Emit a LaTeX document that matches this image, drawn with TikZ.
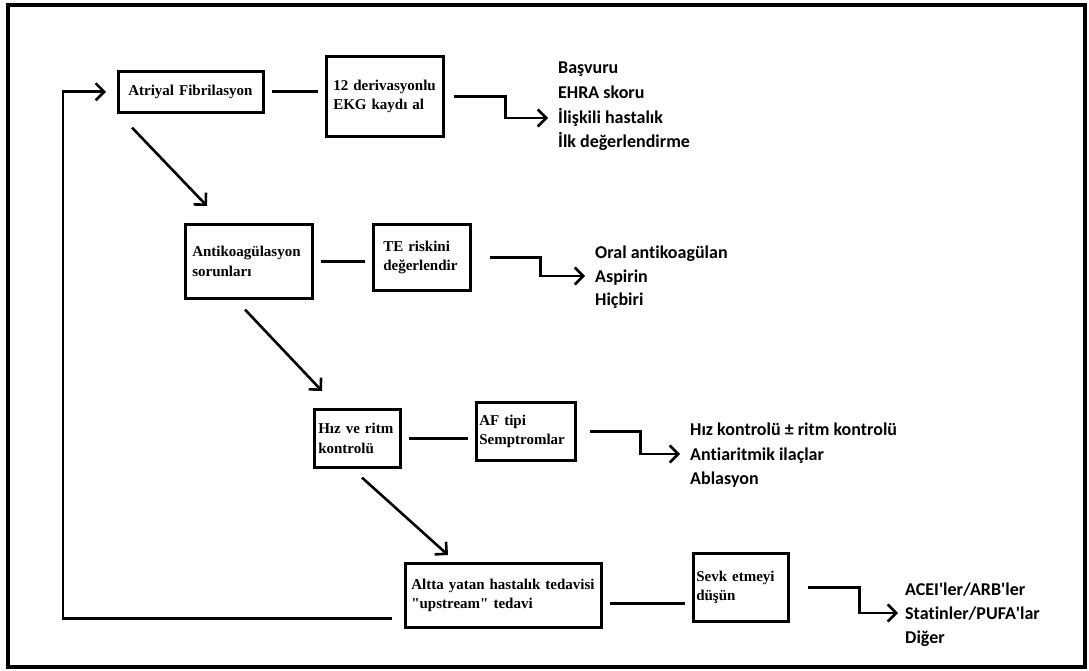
\documentclass[tikz,border=0pt]{standalone}
\usepackage{fontspec}
\setmainfont{Liberation Serif}
\newfontfamily\listfont{Carlito}[Ligatures={NoCommon}]
\usetikzlibrary{arrows.meta}

\begin{document}
\begin{tikzpicture}[
  x=1pt,
  y=-1pt,
  stepbox/.style={
    draw,
    line width=2.6pt,
    anchor=north west,
    align=left,
    font=\bfseries\fontsize{15}{19.5}\selectfont
  },
  link/.style={line width=2.6pt,shorten <=7pt,shorten >=7pt},
  flow/.style={line width=2.6pt,-{Straight Barb[length=8.5pt,width=17pt]}},
  item/.style={
    anchor=base west,
    inner sep=0pt,
    text height=12pt,
    text depth=0pt,
    font=\listfont\bfseries\fontsize{18}{22}\selectfont
  }
]

\useasboundingbox (0,0) rectangle (1089,671);

% Outer frame
\draw[line width=4pt] (8,5) rectangle (1085,667);

% Main steps
\node[stepbox,text width=125pt,inner xsep=10pt,minimum height=41pt]
  (atriyal) at (117,70) {Atriyal Fibrilasyon};
\node[stepbox,text width=103pt,inner xsep=7pt,minimum height=80pt]
  (ekg) at (325,55) {12 derivasyonlu\\EKG kaydı al};

\node[stepbox,text width=113pt,inner xsep=7pt,minimum height=74pt]
  (antikoag) at (184,223) {Antikoagülasyon\\sorunları};
\node[stepbox,text width=77pt,inner xsep=10pt,minimum height=66pt]
  (te) at (372,223) {TE riskini\\değerlendir};

\node[stepbox,text width=78pt,inner xsep=4pt,minimum height=58pt]
  (hiz) at (313,408) {Hız ve ritm\\kontrolü};
\node[stepbox,text width=93pt,inner xsep=3pt,minimum height=58pt]
  (aftipi) at (475,401) {AF tipi\\Semptromlar};

\node[stepbox,text width=184pt,inner xsep=6pt,minimum height=64pt]
  (altta) at (404,562) {Altta yatan hastalık tedavisi\\\textquotedbl upstream\textquotedbl\ tedavi};
\node[stepbox,text width=89pt,inner xsep=3pt,minimum height=68pt]
  (sevk) at (692,552) {Sevk etmeyi\\düşün};

% Outcome lists
\node[item] (basvuru) at (558,74) {Başvuru};
\node[item] (ehra) at (558,99) {EHRA skoru};
\node[item] (iliskili) at (558,124) {İlişkili hastalık};
\node[item] (ilk) at (558,148) {İlk değerlendirme};

\node[item] (oral) at (595,258) {Oral antikoagülan};
\node[item] (aspirin) at (595,282) {Aspirin};
\node[item] (hicbiri) at (595,305) {Hiçbiri};

\node[item] (hizk) at (690,435) {Hız kontrolü ± ritm kontrolü};
\node[item] (antiar) at (690,460) {Antiaritmik ilaçlar};
\node[item] (ablasyon) at (690,484) {Ablasyon};

\node[item] (acei) at (905,595) {ACEI\textquotesingle ler/ARB\textquotesingle ler};
\node[item] (statin) at (905,619) {Statinler/PUFA\textquotesingle lar};
\node[item] (diger) at (905,643) {Diğer};

% Links between step boxes
\draw[link] (atriyal.east) -- (atriyal.east -| ekg.west);
\draw[link] (antikoag.east) -- (antikoag.east -| te.west);
\draw[link] (hiz.east) -- (hiz.east -| aftipi.west);
\draw[link] ([yshift=-8pt]altta.east) -- ([yshift=-8pt]altta.east -| sevk.west);

% Elbow arrows to the lists
\draw[flow,shorten <=9pt,shorten >=10pt] (ekg.east) -- ++(61,0) |- (iliskili.west);
\draw[flow,shorten <=18pt,shorten >=10pt] (te.east) -- ++(69,0) |- (aspirin.west);
\draw[flow,shorten <=13pt,shorten >=10pt] (aftipi.east) -- ++(64,0) |- (antiar.west);
\draw[flow,shorten <=18pt,shorten >=7pt] (sevk.east) -- ++(70,0) |- (statin.west);

% Diagonal arrows down the chain
\draw[flow] ([xshift=15pt,yshift=-14pt]atriyal.south west)
  -- ([xshift=23pt,yshift=17pt]antikoag.north west);
\draw[flow] ([xshift=61pt,yshift=-10pt]antikoag.south west)
  -- ([xshift=9pt,yshift=17pt]hiz.north west);
\draw[flow] ([xshift=49pt,yshift=-9pt]hiz.south west)
  -- ([xshift=44pt,yshift=7pt]altta.north west);

% Feedback loop
\draw[flow,shorten <=12pt,shorten >=11pt] ([yshift=-23pt]altta.west)
  -| ([xshift=-54pt]atriyal.west) -- (atriyal.west);

\end{tikzpicture}
\end{document}
